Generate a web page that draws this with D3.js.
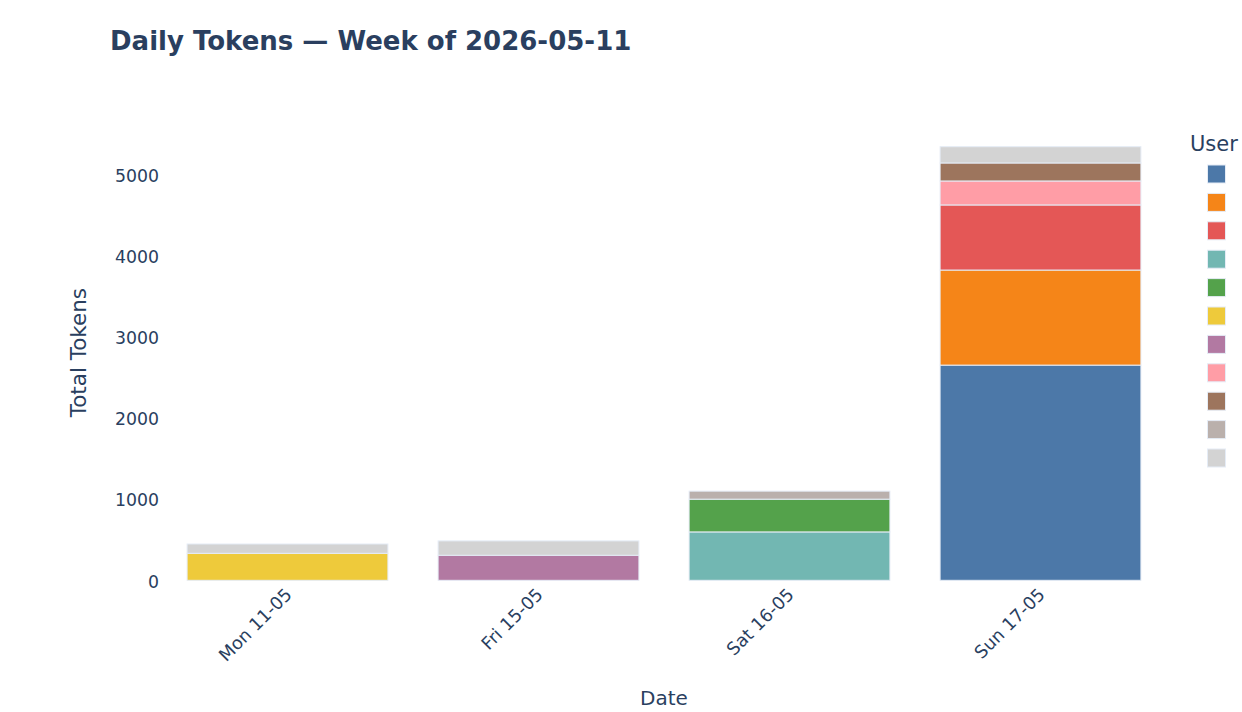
<!DOCTYPE html>
<html>
<head>
<meta charset="utf-8">
<script src="https://cdn.jsdelivr.net/npm/d3@7/dist/d3.min.js"></script>
<style>
  html, body { margin: 0; padding: 0; background: #fff; }
  svg { display: block; font-family: "DejaVu Sans", Verdana, sans-serif; }
</style>
</head>
<body>
<svg id="chart" width="1242" height="712"></svg>
<script>
// ---- data ----
const days = ["Mon 11-05", "Fri 15-05", "Sat 16-05", "Sun 17-05"];
const userNames = ["", "", "", "", "", "", "", "", "", "", ""];
const userColors = ["#4c78a8", "#f58518", "#e45756", "#72b7b2", "#54a24b", "#eeca3b",
                    "#b279a2", "#ff9da6", "#9d755d", "#bab0ac", "#d3d3d3"];
// tokens per user, one value per day (same order as days)
const user1  = [0,   0,   0,   2655];
const user2  = [0,   0,   0,   1173];
const user3  = [0,   0,   0,   803];
const user4  = [0,   0,   597, 0];
const user5  = [0,   0,   404, 0];
const user6  = [333, 0,   0,   0];
const user7  = [0,   309, 0,   0];
const user8  = [0,   0,   0,   296];
const user9  = [0,   0,   0,   222];
const user10 = [0,   0,   99,  0];
const user11 = [115, 177, 0,   201];
const yTicks = [0, 1000, 2000, 3000, 4000, 5000];

const series = [user1, user2, user3, user4, user5, user6, user7, user8, user9, user10, user11];

// ---- layout ----
const svg = d3.select("#chart");
const m = { left: 162, right: 1166, top: 125, bottom: 580.3 };
const textColor = "#2a3f5f";

const rows = days.map((d, i) => {
  const r = { day: d };
  series.forEach((s, k) => { r["u" + k] = s[i]; });
  return r;
});
const keys = series.map((s, k) => "u" + k);
const stacked = d3.stack().keys(keys)(rows);

const x = d3.scaleBand().domain(days).range([m.left, m.right]).paddingInner(0.2).paddingOuter(0.1);
const maxTotal = d3.max(rows, r => d3.sum(keys, k => r[k]));
const y = d3.scaleLinear().domain([0, maxTotal * 1.05]).range([m.bottom, m.top]);

// bars
const g = svg.append("g");
stacked.forEach((layer, k) => {
  g.selectAll(null).data(layer.filter(d => d[1] - d[0] > 0)).enter().append("rect")
    .attr("x", d => x(d.data.day))
    .attr("width", x.bandwidth())
    .attr("y", d => y(d[1]))
    .attr("height", d => y(d[0]) - y(d[1]))
    .attr("fill", userColors[k])
    .attr("stroke", "#e5ecf6")
    .attr("stroke-width", 1);
});

// y axis
const yAxis = d3.axisLeft(y).tickValues(yTicks).tickSize(0).tickPadding(3).tickFormat(d3.format("d"));
const ya = svg.append("g").attr("transform", `translate(${m.left},0)`).call(yAxis);
ya.select(".domain").remove();
ya.selectAll("text").attr("fill", textColor).style("font-size", "17.3px")
  .attr("dy", "0.39em")
  .style("font-family", '"DejaVu Sans", Verdana, sans-serif');

// x axis
const xAxis = d3.axisBottom(x).tickSize(0).tickPadding(0);
const xa = svg.append("g").attr("transform", `translate(0,${m.bottom})`).call(xAxis);
xa.select(".domain").remove();
xa.selectAll("text")
  .attr("fill", textColor)
  .style("font-size", "17.7px")
  .style("font-family", '"DejaVu Sans", Verdana, sans-serif')
  .attr("text-anchor", "end")
  .attr("dy", "0.35em")
  .attr("transform", "translate(1,11) rotate(-45)");

// axis titles
svg.append("text").attr("x", (m.left + m.right) / 2).attr("y", 705)
  .attr("text-anchor", "middle").attr("fill", textColor).style("font-size", "20px").text("Date");
svg.append("text").attr("transform", `translate(86,${(m.top + m.bottom) / 2}) rotate(-90)`)
  .attr("text-anchor", "middle").attr("fill", textColor).style("font-size", "21.5px").text("Total Tokens");

// title
svg.append("text").attr("x", 110).attr("y", 50).attr("fill", textColor)
  .style("font-size", "26px").style("font-weight", "bold").text("Daily Tokens \u2014 Week of 2026-05-11");

// legend
const lg = svg.append("g");
lg.append("text").attr("x", 1190).attr("y", 151).attr("fill", textColor)
  .style("font-size", "21px").text("User");
userColors.forEach((c, k) => {
  const item = lg.append("g").attr("transform", `translate(1207.5,${165 + k * 28.4})`);
  item.append("rect").attr("width", 18).attr("height", 18).attr("fill", c)
    .attr("stroke", "#e5ecf6").attr("stroke-width", 1);
  item.append("text").attr("x", 24).attr("y", 14).attr("fill", textColor)
    .style("font-size", "17px").text(userNames[k]);
});
</script>
</body>
</html>
